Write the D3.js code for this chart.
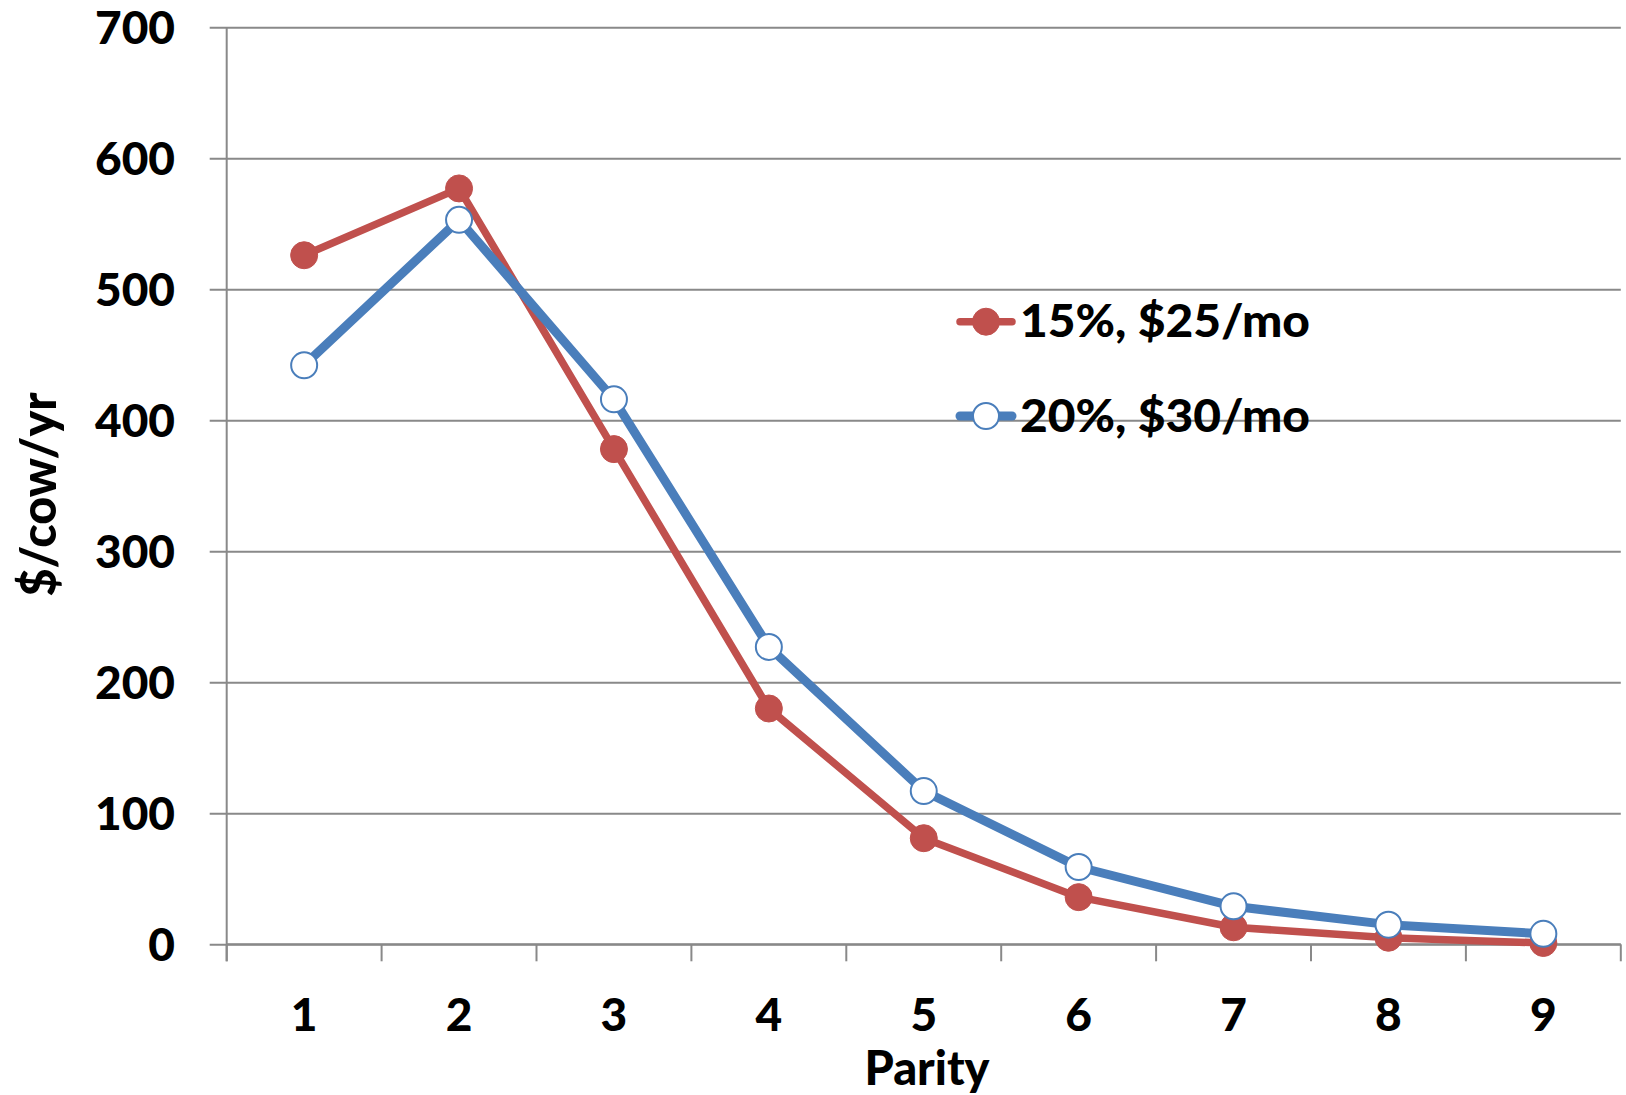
<!DOCTYPE html>
<html>
<head>
<meta charset="utf-8">
<script src="https://cdn.jsdelivr.net/npm/d3@7"></script>
<style>
  html, body { margin: 0; padding: 0; background: #fff; }
  svg { display: block; }
  text { font-family: Lato, "Open Sans", sans-serif; font-weight: 900; fill: #000; }
</style>
</head>
<body>
<svg id="chart" width="1626" height="1095"></svg>
<script>
// Parity categories
const parity = ["1", "2", "3", "4", "5", "6", "7", "8", "9"];
// $/cow/yr for each scenario
const series15 = [526, 577, 378, 180, 81, 36, 13, 5, 1];
const series30 = [442, 553, 416, 227, 117, 59, 29, 15, 8];
const seriesNames = ["15%, $25/mo", "20%, $30/mo"];
const yTicks = [0, 100, 200, 300, 400, 500, 600, 700];

const svg = d3.select("#chart");
const plot = { left: 226.7, right: 1620.8, top: 27.3, bottom: 944.3 };
const gridColor = "#898989";
const tickLen = 17;

const x = d3.scaleBand().domain(parity).range([plot.left, plot.right]).padding(0);
const y = d3.scaleLinear().domain([0, 700]).range([plot.bottom, plot.top]);

// horizontal gridlines with outward tick stubs and value labels
const yAxis = d3.axisLeft(y).tickValues(yTicks)
  .tickSize(-(plot.right - plot.left) - tickLen)
  .tickPadding(0)
  .tickFormat(d3.format("d"));
const gy = svg.append("g")
  .attr("transform", `translate(${plot.left - tickLen},0)`)
  .call(yAxis);
gy.select(".domain").remove();
gy.selectAll(".tick line")
  .attr("x1", 0).attr("x2", plot.right - plot.left + tickLen)
  .attr("stroke", gridColor).attr("stroke-width", 2);
gy.selectAll(".tick text")
  .attr("x", 175 - (plot.left - tickLen))
  .attr("dy", "0.36em")
  .style("font-size", "46px")
  .style("font-family", "Lato, sans-serif")
  .style("font-weight", 900)
  .attr("fill", "#000");

// vertical axis line
svg.append("line")
  .attr("x1", plot.left).attr("x2", plot.left)
  .attr("y1", plot.top).attr("y2", plot.bottom + tickLen)
  .attr("stroke", gridColor).attr("stroke-width", 2);

// category axis: ticks between categories, labels centred
const bounds = parity.map(p => x(p)).concat([x(parity[parity.length - 1]) + x.bandwidth()]);
svg.append("g").selectAll("line").data(bounds).join("line")
  .attr("x1", d => d).attr("x2", d => d)
  .attr("y1", plot.bottom).attr("y2", plot.bottom + tickLen)
  .attr("stroke", gridColor).attr("stroke-width", 2);
svg.append("line")
  .attr("x1", plot.left).attr("x2", plot.right)
  .attr("y1", plot.bottom).attr("y2", plot.bottom)
  .attr("stroke", gridColor).attr("stroke-width", 2);
svg.append("g").selectAll("text").data(parity).join("text")
  .attr("x", d => x(d) + x.bandwidth() / 2)
  .attr("y", 1031)
  .attr("text-anchor", "middle")
  .style("font-size", "46px")
  .text(d => d);

// axis titles
svg.append("text")
  .attr("x", 927).attr("y", 1085)
  .attr("text-anchor", "middle")
  .attr("textLength", 125)
  .attr("lengthAdjust", "spacingAndGlyphs")
  .style("font-size", "47px")
  .text("Parity");
svg.append("text")
  .attr("transform", "translate(56,494.5) rotate(-90)")
  .attr("text-anchor", "middle")
  .attr("textLength", 204)
  .attr("lengthAdjust", "spacingAndGlyphs")
  .style("font-size", "50px")
  .text("$/cow/yr");

const cx = d => x(d) + x.bandwidth() / 2;
const line = d3.line().x((d, i) => cx(parity[i])).y(d => y(d));

const styles = [
  { color: "#C0504D", width: 7.5, fill: "#C0504D", stroke: "#C0504D", r: 13.5, sw: 1 },
  { color: "#4A7EBB", width: 9, fill: "#FFFFFF", stroke: "#4A7EBB", r: 13, sw: 2 }
];
const data = [series15, series30];

data.forEach((vals, k) => {
  const s = styles[k];
  const g = svg.append("g");
  g.append("path")
    .attr("d", line(vals))
    .attr("fill", "none")
    .attr("stroke", s.color)
    .attr("stroke-width", s.width)
    .attr("stroke-linejoin", "round");
  g.selectAll("circle").data(vals).join("circle")
    .attr("cx", (d, i) => cx(parity[i]))
    .attr("cy", d => y(d))
    .attr("r", s.r)
    .attr("fill", s.fill)
    .attr("stroke", s.stroke)
    .attr("stroke-width", s.sw);
});

// legend
const legendY = [321.7, 416];
seriesNames.forEach((name, k) => {
  const s = styles[k];
  const g = svg.append("g").attr("transform", `translate(0,${legendY[k]})`);
  g.append("line")
    .attr("x1", 960).attr("x2", 1012)
    .attr("stroke", s.color).attr("stroke-width", s.width)
    .attr("stroke-linecap", "round");
  g.append("circle")
    .attr("cx", 986).attr("cy", 0).attr("r", s.r)
    .attr("fill", s.fill).attr("stroke", s.stroke).attr("stroke-width", s.sw);
  g.append("text")
    .attr("x", 1020).attr("y", 0).attr("dy", "0.34em")
    .attr("textLength", 290)
    .attr("lengthAdjust", "spacingAndGlyphs")
    .style("font-size", "46px")
    .text(name);
});
</script>
</body>
</html>
